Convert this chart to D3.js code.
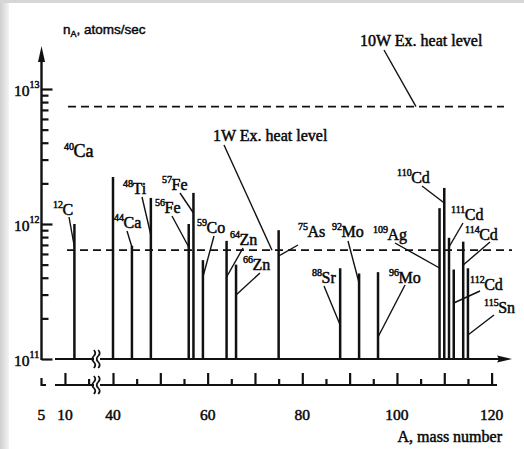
<!DOCTYPE html>
<html><head><meta charset="utf-8">
<script src="https://cdn.jsdelivr.net/npm/d3@7"></script>
<style>
html,body{margin:0;padding:0;background:#fff;}
svg{display:block;}
text{fill:#000;}
</style></head>
<body>
<script>
// ---------- data ----------
const massNumbers = [12, 40, 44, 48, 56, 57, 59, 64, 66, 75, 88, 92, 96, 109, 110, 111, 112, 114, 115];
const elements    = ["C","Ca","Ca","Ti","Fe","Fe","Co","Zn","Zn","As","Sr","Mo","Mo","Ag","Cd","Cd","Cd","Cd","Sn"];
const rates       = [1.0e12, 2.23e12, 6.9e11, 1.56e12, 1.0e12, 1.7e12, 5.4e11, 7.5e11, 5.0e11, 9.0e11,
                     4.7e11, 4.3e11, 4.4e11, 1.31e12, 1.85e12, 7.9e11, 4.6e11, 7.4e11, 4.7e11];
const heatLevels  = [7.4e12, 6.4e11];           // 10W, 1W excess heat levels
const heatLabels  = ["10W Ex. heat level", "1W Ex. heat level"];
const xTickLabels = [5, 10, 40, 60, 80, 100, 120];
const xMajorTicks = [10, 40, 50, 60, 70, 80, 90, 100, 110, 120];
const xMinorTicks = [15, 45, 55, 65, 75, 85, 95, 105, 115];
const yMajorTicks = [1e11, 1e12, 1e13];
const yLabelExps  = [11, 12, 13];

// ---------- layout (label placement) ----------
// [superscript x, baseline y, leader start x, leader start y, leader end y, font size]
const labelLayout = [
  [53,215, 69,217, 247,16], [64,157, null,null,null,18], [114,228, 127,231, 247,16], [123,194, 142,197, 235,16],
  [155,213, 172,216, 247,16], [162,190, 180,193, 213,16], [197,233, 214,236, 277,16], [230,245, 243,248, 277,16],
  [243,270, 260,273, 295,16], [298,237, 298,245, 256,16], [312,283, 324,286, 325,16], [332,237, 348,241, 283,16],
  [389,283, 405,285, 337,16], [373,240, 395,243, 268,16], [397,183, 422,186, 203,16], [451,220, 463,223, 247,16],
  [470,290, 480,291, 303,16], [465,240, 490,242, 265,16], [484,313, 494,315, 335,16]
];

const W = 524, H = 449;
const svg = d3.select("body").append("svg").attr("width", W).attr("height", H);

// scanned-page edges
const defs = svg.append("defs");
const lg = defs.append("linearGradient").attr("id","edge").attr("x1",0).attr("x2",1);
lg.append("stop").attr("offset",0).attr("stop-color","#cfcfcf");
lg.append("stop").attr("offset",1).attr("stop-color","#f4f4f4");
svg.append("rect").attr("x",0).attr("y",0).attr("width",9).attr("height",H).attr("fill","url(#edge)");
svg.append("rect").attr("x",0).attr("y",0).attr("width",W).attr("height",3).attr("fill","#d6d6d6");

// scales
const y = d3.scaleLog().domain([1e11, 1e13]).range([359, 89]);
const xLo = d3.scaleLinear().domain([5, 15]).range([41.3, 88.6]);
const xHi = d3.scaleLinear().domain([40, 120]).range([113, 491.6]);
const xA = a => a < 30 ? xLo(a) : xHi(a);

const serif = "'Liberation Serif','Times New Roman',serif";
const sans = "'Liberation Sans',Arial,sans-serif";
const ink = "#111";
const tsw = 0.5;

// ---------- y axis ----------
const yMinor = [];
[1e11, 1e12].forEach(d => { for (let k = 2; k <= 9; k++) yMinor.push(d * k); });
const yAxisMinor = svg.append("g").attr("transform","translate(41.5,0)")
  .call(d3.axisRight(y).tickValues(yMinor).tickSize(7).tickFormat(""));
const yAxisMajor = svg.append("g").attr("transform","translate(41.5,0)")
  .call(d3.axisRight(y).tickValues(yMajorTicks).tickSize(11).tickFormat(""));
[yAxisMinor, yAxisMajor].forEach(g => {
  g.select(".domain").remove();
  g.selectAll("line").attr("stroke", ink).attr("stroke-width", 2.2);
});
svg.append("line").attr("x1",41.5).attr("x2",41.5).attr("y1",y(1e11)+1).attr("y2",55)
  .attr("stroke",ink).attr("stroke-width",2.4);
svg.append("path").attr("d","M41.5,46 L45,62 L38,62 Z").attr("fill",ink);

const yl = svg.append("g");
yMajorTicks.forEach((v,i) => {
  const t = yl.append("text").attr("x",14).attr("y",y(v)+7)
    .attr("font-family",serif).attr("font-size",15.5)
    .attr("stroke",ink).attr("stroke-width",tsw);
  t.append("tspan").text("10");
  t.append("tspan").attr("font-size",10).attr("dy",-8).text(yLabelExps[i]);
});

// y title
const yt = svg.append("text").attr("x",63).attr("y",34).attr("font-family",sans)
  .attr("font-size",13.5).attr("stroke",ink).attr("stroke-width",0.45);
yt.append("tspan").text("n");
yt.append("tspan").attr("font-size",9).attr("dy",3).text("A");
yt.append("tspan").attr("dy",-3).text(", atoms/sec");

// ---------- baseline axis ----------
const base = y(1e11);
svg.append("line").attr("x1",55).attr("x2",505).attr("y1",base).attr("y2",base)
  .attr("stroke",ink).attr("stroke-width",2.2);
svg.append("path").attr("d",`M512,${base} L497,${base-3.5} L499,${base} L497,${base+3.5} Z`).attr("fill",ink);

// lower tick axis
const lowY = 385;
svg.append("path").attr("d","M41.5,378 V385 H46").attr("fill","none").attr("stroke",ink).attr("stroke-width",2.2);
svg.append("line").attr("x1",55).attr("x2",497).attr("y1",lowY).attr("y2",lowY)
  .attr("stroke",ink).attr("stroke-width",2.2);
function tickAxis(scale, vals, size) {
  const g = svg.append("g").attr("transform",`translate(0,${lowY})`)
    .call(d3.axisTop(scale).tickValues(vals).tickSize(size).tickFormat(""));
  g.select(".domain").remove();
  g.selectAll("line").attr("stroke",ink).attr("stroke-width",2.2);
}
tickAxis(xLo, xMajorTicks.filter(v => v < 30), 12);
tickAxis(xLo, xMinorTicks.filter(v => v < 30), 6);
tickAxis(xHi, xMajorTicks.filter(v => v >= 30), 12);
tickAxis(xHi, xMinorTicks.filter(v => v >= 30), 6);

// axis breaks
function brk(cx, y0) {
  svg.append("rect").attr("x",cx-3).attr("y",y0+6).attr("width",6).attr("height",6).attr("fill","#fff");
  [-2.2, 2.2].forEach(dx => {
    const x0 = cx + dx;
    svg.append("path")
      .attr("d",`M${x0-1},${y0} q3,3 0,6 q-3,3 0,6 q3,3 0,6`)
      .attr("fill","none").attr("stroke",ink).attr("stroke-width",1.7);
  });
}
brk(97, base - 9);
brk(97, lowY - 9);

// x tick labels
svg.append("g").selectAll("text").data(xTickLabels).join("text")
  .attr("x", d => xA(d)).attr("y", 420).attr("text-anchor","middle")
  .attr("font-family",serif).attr("font-size",15.5).attr("stroke",ink).attr("stroke-width",tsw)
  .text(d => d);
svg.append("text").attr("x",502).attr("y",442).attr("text-anchor","end")
  .attr("font-family",serif).attr("font-size",16).attr("stroke",ink).attr("stroke-width",tsw)
  .text("A, mass number");

// ---------- heat levels ----------
svg.append("line").attr("x1",68).attr("x2",504).attr("y1",y(heatLevels[0])).attr("y2",y(heatLevels[0]))
  .attr("stroke",ink).attr("stroke-width",1.9).attr("stroke-dasharray","8,5");
svg.append("line").attr("x1",67).attr("x2",512).attr("y1",y(heatLevels[1])).attr("y2",y(heatLevels[1]))
  .attr("stroke",ink).attr("stroke-width",1.9).attr("stroke-dasharray","8,5");
svg.append("text").attr("x",360).attr("y",46).attr("font-family",serif).attr("font-size",16)
  .attr("stroke",ink).attr("stroke-width",tsw).text(heatLabels[0]);
svg.append("line").attr("x1",384).attr("y1",50).attr("x2",416).attr("y2",y(heatLevels[0]))
  .attr("stroke",ink).attr("stroke-width",1.4);
svg.append("text").attr("x",213).attr("y",141).attr("font-family",serif).attr("font-size",16)
  .attr("stroke",ink).attr("stroke-width",tsw).text(heatLabels[1]);
svg.append("line").attr("x1",224).attr("y1",145).attr("x2",272).attr("y2",y(heatLevels[1]))
  .attr("stroke",ink).attr("stroke-width",1.4);

// ---------- bars ----------
const rows = massNumbers.map((a,i) => ({a, el: elements[i], v: rates[i], L: labelLayout[i]}));
svg.append("g").selectAll("line").data(rows).join("line")
  .attr("x1", d => xA(d.a)).attr("x2", d => xA(d.a))
  .attr("y1", base).attr("y2", d => y(d.v))
  .attr("stroke", ink).attr("stroke-width", 2.5);

// leaders
svg.append("g").selectAll("line").data(rows.filter(d => d.L[2] !== null)).join("line")
  .attr("x1", d => d.L[2]).attr("y1", d => d.L[3])
  .attr("x2", d => xA(d.a)).attr("y2", d => d.L[4])
  .attr("stroke", ink).attr("stroke-width", 1.4);

// labels
const lab = svg.append("g").selectAll("text").data(rows).join("text")
  .attr("x", d => d.L[0]).attr("y", d => d.L[1])
  .attr("font-family", serif).attr("font-size", d => d.L[5])
  .attr("stroke", ink).attr("stroke-width", tsw);
lab.append("tspan").attr("font-size", 10).attr("dy", -7).text(d => d.a);
lab.append("tspan").attr("dx", -0.5).attr("dy", 7).text(d => d.el);
</script>
</body></html>
